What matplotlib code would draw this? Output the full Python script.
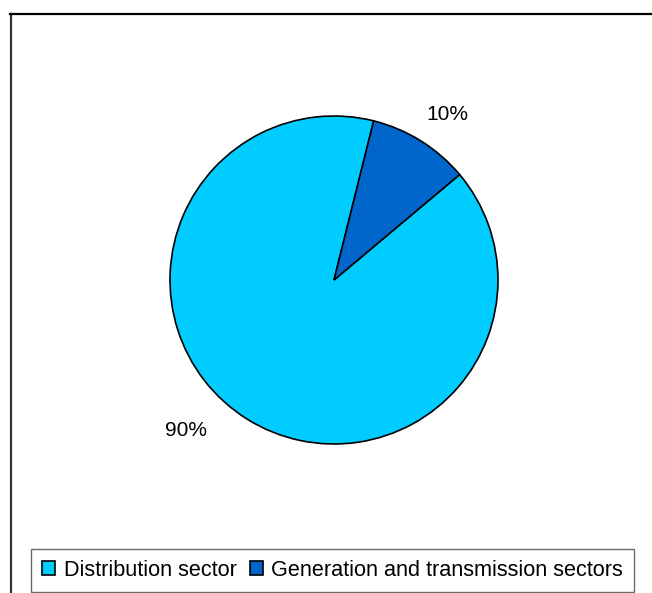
import matplotlib
matplotlib.use("Agg")
import numpy as np
import matplotlib.pyplot as plt
from matplotlib.lines import Line2D

categories = ["Distribution sector", "Generation and transmission sectors"]
values = [90, 10]
pct_labels = ["90%", "10%"]
colors = ["#00CCFF", "#0066CC"]

plt.rcParams['font.family'] = ['Liberation Sans', 'DejaVu Sans']

W, H = 652, 593
fig = plt.figure(figsize=(W / 100, H / 100), dpi=100)

# Outer chart frame (left and top visible)
fig.add_artist(Line2D([10.5 / W, 10.5 / W], [0, 1 - 13.5 / H], transform=fig.transFigure,
                      color="#333333", lw=1.6))
fig.add_artist(Line2D([10 / W, 1], [1 - 13.5 / H, 1 - 13.5 / H], transform=fig.transFigure,
                      color="black", lw=1.6))

cx, cy, r = 334, 280, 164
span = 1.5
ax = fig.add_axes([(cx - span * r) / W, 1 - (cy + span * r) / H, 2 * span * r / W, 2 * span * r / H])

wedges, texts = ax.pie(values, colors=colors, startangle=40, counterclock=False,
                       labels=pct_labels, labeldistance=1.24,
                       wedgeprops=dict(edgecolor="black", linewidth=1.2),
                       textprops=dict(fontsize=15, color="black"))
ax.set_xlim(-span, span)
ax.set_ylim(-span, span)
ax.axis("off")

# label placement (angle offset in degrees, distance in radii) like the original
label_adjust = [(-12.5, 1.29), (-2.4, 1.22)]
for w, t, (off, dist) in zip(wedges, texts, label_adjust):
    mid = np.deg2rad((w.theta1 + w.theta2) / 2 + off)
    t.set_position((dist * np.cos(mid), dist * np.sin(mid)))
    t.set_horizontalalignment("center")
    t.set_verticalalignment("center")

leg = fig.legend(wedges, categories, loc="center", bbox_to_anchor=(332.5 / W, 1 - 570.5 / H),
                 ncol=2, frameon=True, fancybox=False, fontsize=15.6,
                 handlelength=0.6, handleheight=0.6, handletextpad=0.4,
                 columnspacing=0.6, borderpad=0.5, borderaxespad=0)
leg.get_frame().set_edgecolor("#444444")
leg.get_frame().set_linewidth(1.0)
for h in leg.legend_handles:
    h.set_edgecolor("black")
    h.set_linewidth(1.2)

fig.savefig("out.png", dpi=100)
